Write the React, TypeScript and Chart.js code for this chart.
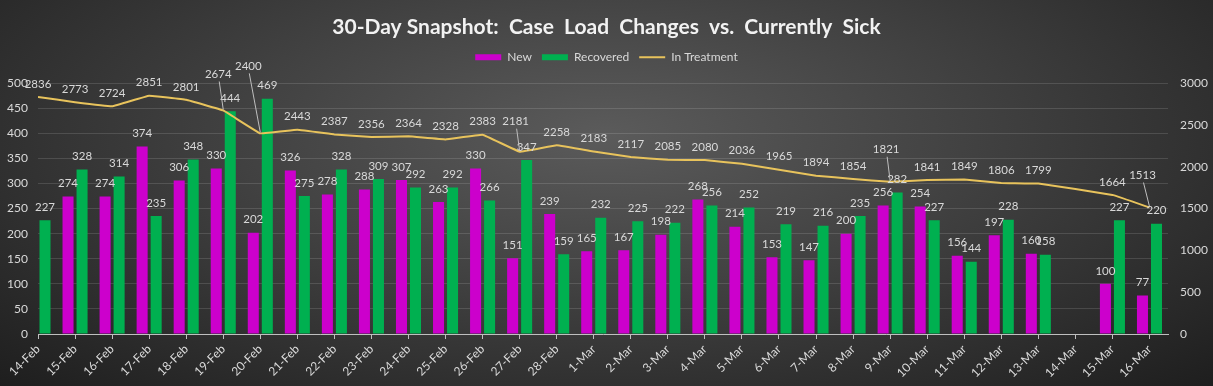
import React, { useEffect, useRef } from 'react';
import { Chart, registerables } from 'chart.js';

Chart.register(...registerables);

const categories = [
  '14-Feb', '15-Feb', '16-Feb', '17-Feb', '18-Feb', '19-Feb', '20-Feb', '21-Feb', '22-Feb', '23-Feb',
  '24-Feb', '25-Feb', '26-Feb', '27-Feb', '28-Feb', '1-Mar', '2-Mar', '3-Mar', '4-Mar', '5-Mar',
  '6-Mar', '7-Mar', '8-Mar', '9-Mar', '10-Mar', '11-Mar', '12-Mar', '13-Mar', '14-Mar', '15-Mar', '16-Mar',
];

const newCases: (number | null)[] = [
  null, 274, 274, 374, 306, 330, 202, 326, 278, 288,
  307, 263, 330, 151, 239, 165, 167, 198, 268, 214,
  153, 147, 200, 256, 254, 156, 197, 160, null, 100, 77,
];

const recovered: (number | null)[] = [
  227, 328, 314, 235, 348, 444, 469, 275, 328, 309,
  292, 292, 266, 347, 159, 232, 225, 222, 256, 252,
  219, 216, 235, 282, 227, 144, 228, 158, null, 227, 220,
];

const inTreatment: (number | null)[] = [
  2836, 2773, 2724, 2851, 2801, 2674, 2400, 2443, 2387, 2356,
  2364, 2328, 2383, 2181, 2258, 2183, 2117, 2085, 2080, 2036,
  1965, 1894, 1854, 1821, 1841, 1849, 1806, 1799, null, 1664, 1513,
];

const TITLE = '30-Day Snapshot:  Case  Load  Changes  vs.  Currently  Sick';

// label callouts (offsets of the label from its point, in px) for the line series
const calloutOffsets: Record<number, [number, number]> = {
  5: [-5, -36],
  6: [-12, -67],
  13: [-4, -30],
  23: [-4, -32],
  30: [-7, -32],
};

const FONT = 'Lato, "Open Sans", sans-serif';
const TEXT = '#d9d9d9';

const labelPlugin = {
  id: 'valueLabels',
  afterDatasetsDraw(chart: any) {
    const ctx = chart.ctx;
    ctx.save();
    ctx.font = `11.5px ${FONT}`;
    ctx.fillStyle = TEXT;
    ctx.textAlign = 'center';
    ctx.textBaseline = 'middle';
    [0, 1, 2].forEach((di) => {
      const meta = chart.getDatasetMeta(di);
      const ds = chart.data.datasets[di];
      meta.data.forEach((el: any, i: number) => {
        const v = ds.data[i].y;
        if (v === null || v === undefined) return;
        let x = el.x;
        let y = el.y - 13;
        if (di === 2 && calloutOffsets[i]) {
          const [dx, dy] = calloutOffsets[i];
          x = el.x + dx;
          y = el.y + dy;
          ctx.save();
          ctx.strokeStyle = '#bfbfbf';
          ctx.lineWidth = 1;
          ctx.beginPath();
          ctx.moveTo(x + 1, y + 7);
          ctx.lineTo(el.x, el.y - 1);
          ctx.stroke();
          ctx.restore();
        }
        ctx.fillText(String(v), x, y);
      });
    });
    ctx.restore();
  },
};

const legendPad = {
  id: 'legendPad',
  beforeInit(chart: any) {
    const legend = chart.legend;
    if (!legend) return;
    const orig = legend.fit;
    legend.fit = function () {
      orig.call(this);
      this.height += 10;
    };
  },
};

export default function App() {
  const ref = useRef<HTMLCanvasElement | null>(null);

  useEffect(() => {
    document.body.style.margin = '0';
    const canvas = ref.current;
    if (!canvas) return;
    const chart = new Chart(canvas, {
      type: 'bar',
      data: {
        datasets: [
          {
            label: 'New',
            data: newCases.map((v, i) => ({ x: i, y: v })) as any,
            backgroundColor: '#cc00cc',
            yAxisID: 'y',
            order: 1,
            categoryPercentage: 0.757,
            barPercentage: 0.786,
          },
          {
            label: 'Recovered',
            data: recovered.map((v, i) => ({ x: i, y: v })) as any,
            backgroundColor: '#00b050',
            yAxisID: 'y',
            order: 1,
            categoryPercentage: 0.757,
            barPercentage: 0.786,
          },
          {
            type: 'line',
            label: 'In Treatment',
            data: inTreatment.map((v, i) => ({ x: i, y: v })) as any,
            borderColor: '#e8c35c',
            backgroundColor: '#e8c35c',
            borderWidth: 2,
            pointRadius: 0,
            tension: 0.05,
            spanGaps: true,
            yAxisID: 'y1',
            order: 0,
          } as any,
        ],
      },
      options: {
        animation: false,
        responsive: true,
        maintainAspectRatio: false,
        layout: { padding: 0 },
        plugins: {
          title: {
            display: true,
            text: TITLE,
            color: '#f2f2f2',
            font: { family: FONT, size: 21, weight: 'bold' },
            padding: { top: 15, bottom: 1 },
          },
          legend: {
            display: true,
            position: 'top',
            labels: {
              color: TEXT,
              font: { family: FONT, size: 12 },
              usePointStyle: true,
              pointStyleWidth: 26,
              boxHeight: 6,
              padding: 10,
              generateLabels(chart: any) {
                return chart.data.datasets.map((ds: any, i: number) => ({
                  text: ds.label,
                  fillStyle: ds.type === 'line' ? ds.borderColor : ds.backgroundColor,
                  strokeStyle: ds.type === 'line' ? ds.borderColor : ds.backgroundColor,
                  lineWidth: ds.type === 'line' ? 2 : 0,
                  pointStyle: ds.type === 'line' ? 'line' : 'rect',
                  fontColor: TEXT,
                  hidden: false,
                  datasetIndex: i,
                }));
              },
            },
          },
          tooltip: { enabled: false },
        },
        scales: {
          x: {
            type: 'linear',
            min: 0,
            max: 30.5,
            offset: false,
            afterBuildTicks(scale: any) {
              scale.ticks = categories.map((_, i) => ({ value: i }));
            },
            afterFit(scale: any) {
              scale.height = 52;
            },
            ticks: {
              autoSkip: false,
              minRotation: 45,
              maxRotation: 45,
              color: TEXT,
              font: { family: FONT, size: 12 },
              padding: 3,
              callback: (v: any) => categories[v as number] ?? '',
            },
            grid: {
              display: true,
              offset: false,
              drawOnChartArea: false,
              drawTicks: true,
              tickLength: 5,
              color: '#bfbfbf',
            },
            border: { display: true, color: '#bfbfbf', width: 1 },
          },
          y: {
            position: 'left',
            min: 0,
            max: 500,
            afterFit(scale: any) {
              scale.width = 38;
            },
            ticks: {
              stepSize: 50,
              color: TEXT,
              font: { family: FONT, size: 12 },
              padding: 10,
            },
            grid: {
              color: 'rgba(255,255,255,0.13)',
              drawTicks: false,
            },
            border: { display: false },
          },
          y1: {
            position: 'right',
            min: 0,
            max: 3000,
            afterFit(scale: any) {
              scale.width = 45;
            },
            ticks: {
              stepSize: 500,
              color: TEXT,
              font: { family: FONT, size: 12 },
              padding: 12,
              callback: (v: any) => String(v),
            },
            grid: { drawOnChartArea: false, drawTicks: false },
            border: { display: false },
          },
        },
      },
      plugins: [labelPlugin, legendPad],
    });
    return () => chart.destroy();
  }, []);

  return (
    <div
      style={{
        width: 1213,
        height: 386,
        position: 'relative',
        background:
          'radial-gradient(ellipse farthest-corner at 50% 35%, #5b5b5b 0%, #434343 40%, #1e1e1e 100%)',
      }}
    >
      <canvas ref={ref} />
    </div>
  );
}
